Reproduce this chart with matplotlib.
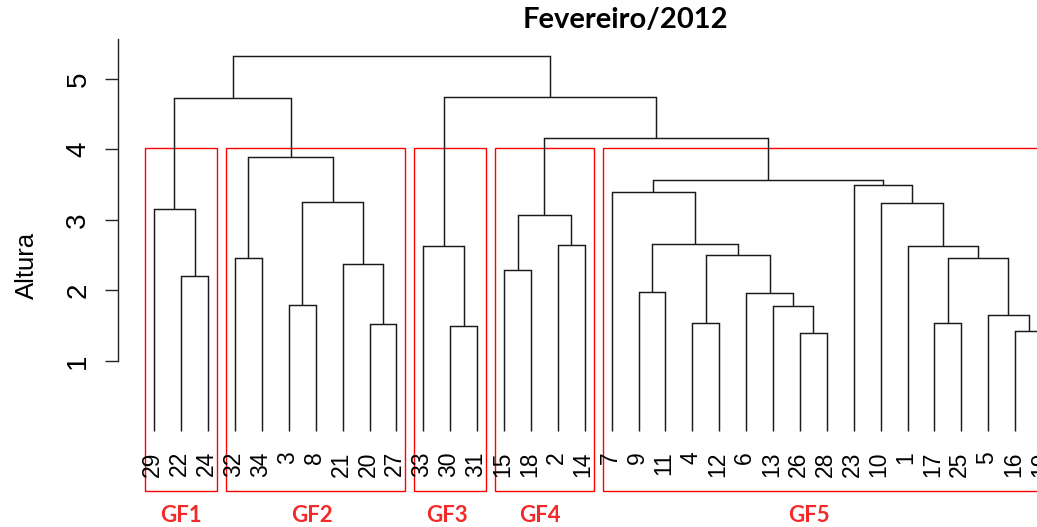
import matplotlib
matplotlib.use("Agg")
import matplotlib.pyplot as plt
from matplotlib.patches import Rectangle

# Leaf order along the horizontal axis
leaf_labels = [29, 22, 24, 32, 34, 3, 8, 21, 20, 27, 33, 30, 31, 15, 18, 2, 14,
               7, 9, 11, 4, 12, 6, 13, 26, 28, 23, 10, 1, 17, 25, 5, 16, 19]

# hclust-style merge table: negative = observation label, positive = earlier merge (1-based)
merge_a = [-26, -16, -30, -20, -4, -17, -5, -13, -3, -6, -9, -22, -15, -21, -32,
           6, 5, -33, -1, -2, 11, 13, -29, -10, 9, -7, -23, 26, 15, 22, 23, 18, 31]
merge_b = [-28, -19, -31, -27, -12, -25, 2, 1, -8, 8, -11, -24, -18, 4, -34,
           7, 10, 3, 16, -14, 17, 20, 12, 19, 14, 21, 24, 27, 25, 28, 29, 30, 32]
merge_height = [1.40, 1.42, 1.49, 1.53, 1.54, 1.54, 1.65, 1.78, 1.79, 1.96, 1.98,
                2.20, 2.29, 2.37, 2.46, 2.46, 2.51, 2.63, 2.63, 2.65, 2.66, 3.07,
                3.16, 3.24, 3.26, 3.39, 3.50, 3.57, 3.89, 4.16, 4.73, 4.74, 5.33]

# Groups cut from the tree (k = 5), in leaf order
group_names = ["GF1", "GF2", "GF3", "GF4", "GF5"]
group_sizes = [3, 7, 3, 4, 17]

y_ticks = [1, 2, 3, 4, 5]
title = "Fevereiro/2012"
y_label = "Altura"

W, H, DPI = 1037, 527, 100
fig = plt.figure(figsize=(W / DPI, H / DPI), dpi=DPI)
ax = fig.add_axes([0, 0, 1, 1])
ax.set_xlim(-5.736, 32.81)
ax.set_ylim(-1.355, 6.12)

line_col = "#1a1a1a"
red = "#ff0000"

# Position of every node: leaves at their order index, merges at the midpoint of children
pos = {lab: i for i, lab in enumerate(leaf_labels)}
node_x = []


def child(ref):
    if ref < 0:
        return pos[-ref], 0.0
    return node_x[ref - 1], merge_height[ref - 1]


for a, b, h in zip(merge_a, merge_b, merge_height):
    xa, ha = child(a)
    xb, hb = child(b)
    ax.plot([xa, xa, xb, xb], [ha, h, h, hb], color=line_col, lw=1.05,
            solid_joinstyle="miter", solid_capstyle="butt")
    node_x.append((xa + xb) / 2)

# Leaf labels hang below the leaves
for i, lab in enumerate(leaf_labels):
    ax.text(i - 0.06, -0.28, str(lab), rotation=90, ha="center", va="top",
            fontsize=16.5, family="Liberation Sans", color="black")

# Rectangles around the five groups (rect.hclust style)
k = len(group_sizes)
sorted_h = sorted(merge_height, reverse=True)
rect_top = (sorted_h[k - 2] + sorted_h[k - 1]) / 2
rect_bottom = -0.844
label_shift = [0.0, -0.15, -0.12, -0.17, -0.65]
start = 0
for name, size, shift in zip(group_names, group_sizes, label_shift):
    end = start + size - 1
    left = start - 0.34
    right = end + 0.33
    ax.add_patch(Rectangle((left, rect_bottom), right - left, rect_top - rect_bottom,
                           fill=False, edgecolor=red, lw=1.0))
    ax.text((start + end) / 2 + shift, -1.279, name, ha="center", va="baseline",
            fontsize=16, fontweight="bold", family="Lato", color="#f42a2a")
    start = end + 1

# Y axis in R style
for s in ["top", "right", "bottom"]:
    ax.spines[s].set_visible(False)
ax.spines["left"].set_position(("data", -1.338))
ax.spines["left"].set_bounds(1, 5.567)
ax.spines["left"].set_color("#222222")
ax.spines["left"].set_linewidth(1.0)
ax.set_xticks([])
ax.set_yticks(y_ticks)
ax.set_yticklabels([str(t) for t in y_ticks], rotation=90, va="center",
                   family="Liberation Sans")
ax.tick_params(axis="y", length=9.4, width=1.0, pad=10.0, labelsize=20,
               color="#222222")
ax.set_ylabel(y_label, fontsize=18.5, family="Liberation Sans")
ax.yaxis.set_label_coords(38.7 / W, 0.497)

fig.text(625 / W, 1 - 28.3 / H, title, ha="center", va="baseline",
         fontsize=21, fontweight="bold", family="Lato")

fig.savefig("out.png", dpi=DPI, facecolor="white")
